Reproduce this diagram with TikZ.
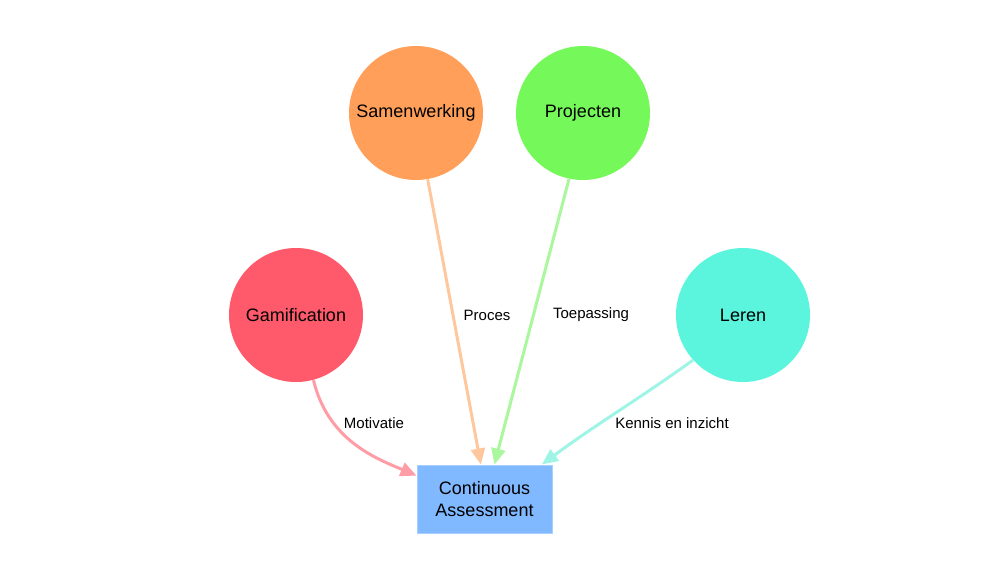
\documentclass[tikz,border=0pt]{standalone}
\usepackage{fontspec}
\setmainfont{Liberation Sans}
\usetikzlibrary{arrows.meta}
\definecolor{cgam}{HTML}{FF5A6B}
\definecolor{csam}{HTML}{FF9F5A}
\definecolor{cpro}{HTML}{75F85A}
\definecolor{cler}{HTML}{5AF5DC}
\definecolor{crect}{HTML}{80B9FF}
\definecolor{crectb}{HTML}{A8D0FF}
\definecolor{egam}{HTML}{FF9DA6}
\definecolor{esam}{HTML}{FFC79E}
\definecolor{epro}{HTML}{ABF79E}
\definecolor{eler}{HTML}{9EF5E6}
\tikzset{
  topic/.style={circle, inner sep=0pt, minimum size=67pt, font=\fontsize{9pt}{10pt}\selectfont},
  target/.style={rectangle, inner sep=0pt, minimum width=67.5pt, minimum height=34pt, fill=crect, draw=crectb, line width=0.5pt, align=center, font=\fontsize{9pt}{11pt}\selectfont},
  link/.style={line width=1.5pt, -{Triangle[length=8pt,width=7pt]}},
  elabel/.style={font=\fontsize{7.5pt}{8pt}\selectfont, inner sep=0pt}
}
\begin{document}
\begin{tikzpicture}[x=0.5pt,y=-0.5pt]
\useasboundingbox (0,0) rectangle (1000,580);
\node[topic, fill=csam] (s) at (416,113) {Samenwerking};
\node[topic, fill=cpro] (p) at (583,113) {Projecten};
\node[topic, fill=cgam] (g) at (296,315) {Gamification};
\node[topic, fill=cler] (l) at (743,315) {Leren};
\node[target] (r) at (484.5,499) {Continuous\\Assessment};
\draw[link, egam] (g.-75) .. controls (328,440) and (375,458) .. (r.161);
\draw[link, esam] (s.-80) -- (r.96);
\draw[link, epro] (p.-102) -- (r.74);
\draw[link, eler] (l.-138) .. controls (645,395) and (595,425) .. (r.31);
\node[elabel] (lm) at (374,423) {Motivatie};
\node[elabel] (lp) at (487,315) {Proces};
\node[elabel] (lt) at (591,315) {Toepassing};
\node[elabel] (lk) at (672,423) {Kennis en inzicht};
\end{tikzpicture}
\end{document}
